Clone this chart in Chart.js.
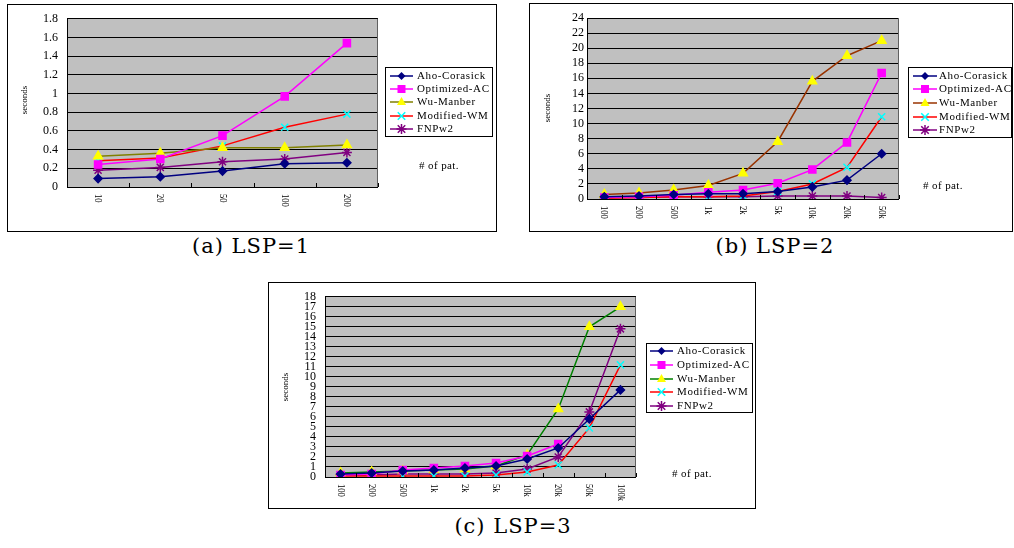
<!DOCTYPE html>
<html><head><meta charset="utf-8">
<script src="https://cdn.jsdelivr.net/npm/chart.js@4/dist/chart.umd.min.js"></script>
<style>
body{margin:0;background:#fff;width:1014px;height:548px;position:relative;overflow:hidden;font-family:"Liberation Serif","DejaVu Serif",serif;}
.box{position:absolute;border:1px solid #000;background:#fff;}
.box canvas{position:absolute;left:0;top:0;}
.cap{position:absolute;font-family:"DejaVu Serif","Liberation Serif",serif;font-size:21px;letter-spacing:1px;white-space:nowrap;transform:translateX(-50%);}
</style></head><body>
<div class="box" id="boxA" style="left:7px;top:4px;width:488px;height:226px;"><canvas id="cA" width="488" height="226"></canvas></div>
<div class="box" id="boxB" style="left:529px;top:3px;width:482px;height:227px;"><canvas id="cB" width="482" height="227"></canvas></div>
<div class="box" id="boxC" style="left:268px;top:282px;width:486px;height:225px;"><canvas id="cC" width="486" height="225"></canvas></div>
<div class="cap" style="left:251px;top:234px;">(a) LSP=1</div>
<div class="cap" style="left:775px;top:234px;">(b) LSP=2</div>
<div class="cap" style="left:513px;top:514px;">(c) LSP=3</div>
<script>
const seriesNames = ['Aho-Corasick','Optimized-AC','Wu-Manber','Modified-WM','FNPw2'];

// (a) LSP=1
const catsA = ['10','20','50','100','200'];
const ahoA  = [0.09, 0.11, 0.17, 0.25, 0.26];
const optA  = [0.24, 0.30, 0.55, 0.97, 1.54];
const wuA   = [0.33, 0.36, 0.42, 0.42, 0.45];
const modA  = [0.28, 0.31, 0.44, 0.64, 0.78];
const fnpA  = [0.18, 0.21, 0.27, 0.30, 0.37];

// (b) LSP=2
const catsB = ['100','200','500','1k','2k','5k','10k','20k','50k'];
const ahoB  = [0.3, 0.4, 0.6, 0.7, 0.7, 1.0, 1.6, 2.5, 6.0];
const optB  = [0.2, 0.3, 0.5, 0.9, 1.2, 2.1, 3.9, 7.5, 16.7];
const wuB   = [0.6, 0.8, 1.2, 1.8, 3.4, 7.6, 15.6, 19.0, 21.0];
const modB  = [0.1, 0.2, 0.3, 0.3, 0.4, 1.0, 2.0, 4.2, 10.9];
const fnpB  = [0.2, 0.2, 0.3, 0.3, 0.3, 0.4, 0.4, 0.4, 0.2];

// (c) LSP=3
const catsC = ['100','200','500','1k','2k','5k','10k','20k','50k','100k'];
const ahoC  = [0.3, 0.4, 0.6, 0.7, 0.9, 1.1, 1.8, 2.9, 5.8, 8.7];
const optC  = [0.2, 0.3, 0.7, 0.9, 1.1, 1.4, 2.1, 3.3, null, null];
const wuC   = [0.4, 0.5, 0.6, 0.7, 0.8, 1.1, 2.2, 6.8, 15.0, 17.0];
const modC  = [0.1, 0.1, 0.1, 0.1, 0.1, 0.2, 0.5, 1.2, 4.9, 11.2];
const fnpC  = [0.2, 0.2, 0.3, 0.3, 0.3, 0.4, 0.8, 2.0, 6.5, 14.8];

const FONT = '"Liberation Serif","DejaVu Serif",serif';

function styles(wuColor){
  return [
    {line:'#000080', pt:'rectRot', fill:'#000080', stroke:'#000080', r:4},
    {line:'#FF00FF', pt:'rect', fill:'#FF00FF', stroke:'#FF00FF', r:5},
    {line:wuColor, pt:'triangle', fill:'#FFFF00', stroke:'#FFFF00', r:5},
    {line:'#FF0000', pt:'crossRot', fill:'#00FFFF', stroke:'#00FFFF', r:5},
    {line:'#800080', pt:'star', fill:'#800080', stroke:'#800080', r:5}
  ];
}

function drawMarker(ctx, st, x, y){
  const r = st.r;
  ctx.save();
  ctx.fillStyle = st.fill; ctx.strokeStyle = st.stroke; ctx.lineWidth = 1.5;
  ctx.beginPath();
  if(st.pt==='rectRot'){ctx.moveTo(x,y-r);ctx.lineTo(x+r,y);ctx.lineTo(x,y+r);ctx.lineTo(x-r,y);ctx.closePath();ctx.fill();}
  else if(st.pt==='rect'){const s=r*0.8;ctx.rect(x-s,y-s,2*s,2*s);ctx.fill();}
  else if(st.pt==='triangle'){ctx.moveTo(x,y-r);ctx.lineTo(x+r*0.9,y+r*0.6);ctx.lineTo(x-r*0.9,y+r*0.6);ctx.closePath();ctx.fill();}
  else if(st.pt==='crossRot'){const s=r*0.75;ctx.moveTo(x-s,y-s);ctx.lineTo(x+s,y+s);ctx.moveTo(x+s,y-s);ctx.lineTo(x-s,y+s);ctx.stroke();}
  else if(st.pt==='star'){const s=r*0.75;ctx.moveTo(x-s,y-s);ctx.lineTo(x+s,y+s);ctx.moveTo(x+s,y-s);ctx.lineTo(x-s,y+s);ctx.moveTo(x,y-r);ctx.lineTo(x,y+r);ctx.moveTo(x-r,y);ctx.lineTo(x+r,y);ctx.stroke();}
  ctx.restore();
}

function makeChart(id, cats, series, wuColor, yMax, yStep, L){
  const st = styles(wuColor);
  const datasets = series.map((d,i)=>({
    label: seriesNames[i], data: d,
    borderColor: st[i].line, borderWidth: 1.5,
    pointStyle: st[i].pt, pointRadius: st[i].r, pointHoverRadius: st[i].r,
    pointBackgroundColor: st[i].fill, pointBorderColor: st[i].stroke, pointBorderWidth: 1.5,
    tension: 0, spanGaps: false, fill: false
  }));
  const decor = {
    id: 'decor'+id,
    beforeDraw(chart){
      const {ctx, chartArea:a} = chart;
      ctx.save(); ctx.fillStyle = '#C0C0C0';
      ctx.fillRect(a.left, a.top, a.right-a.left, a.bottom-a.top); ctx.restore();
    },
    afterDraw(chart){
      const {ctx, chartArea:a} = chart;
      const xs = chart.scales.x;
      ctx.save();
      ctx.strokeStyle = '#000'; ctx.lineWidth = 1;
      ctx.beginPath(); ctx.moveTo(a.left+0.5, a.top); ctx.lineTo(a.left+0.5, a.bottom+0.5); ctx.lineTo(a.right, a.bottom+0.5); ctx.stroke();
      ctx.strokeStyle = '#606060';
      ctx.beginPath(); ctx.moveTo(a.right-0.5, a.top); ctx.lineTo(a.right-0.5, a.bottom); ctx.stroke();
      ctx.strokeStyle = '#000';
      const n = cats.length;
      const bw = xs.getPixelForValue(1)-xs.getPixelForValue(0);
      for(let i=0;i<=n;i++){
        let x;
        if(i===0) x = xs.getPixelForValue(0) - bw/2;
        else if(i===n) x = xs.getPixelForValue(n-1) + bw/2;
        else x = (xs.getPixelForValue(i-1)+xs.getPixelForValue(i))/2;
        x = Math.round(x)+0.5;
        ctx.beginPath(); ctx.moveTo(x, a.bottom); ctx.lineTo(x, a.bottom-4); ctx.stroke();
      }
      ctx.fillStyle = '#000'; ctx.font = '11px '+FONT;
      ctx.textAlign = 'left'; ctx.textBaseline = 'middle';
      cats.forEach((c,i)=>{
        const x = xs.getPixelForValue(i);
        ctx.save(); ctx.translate(x, a.bottom+7); ctx.rotate(Math.PI/2); ctx.scale(0.78,1);
        ctx.fillText(c, 0, 0); ctx.restore();
      });
      ctx.save(); ctx.font = '9px '+FONT; ctx.textAlign='center'; ctx.textBaseline='middle';
      ctx.translate(L.yt[0], L.yt[1]); ctx.rotate(-Math.PI/2); ctx.fillText('seconds',0,0); ctx.restore();
      ctx.font = '11px '+FONT; ctx.textAlign='left'; ctx.textBaseline='middle';
      try{ctx.letterSpacing='0.4px';}catch(e){}
      ctx.fillText('# of pat.', L.xt[0], L.xt[1]);
      const lb = L.leg;
      ctx.fillStyle='#fff'; ctx.fillRect(lb[0],lb[1],lb[2],lb[3]);
      ctx.strokeStyle='#000'; ctx.lineWidth=1;
      ctx.strokeRect(lb[0]+0.5,lb[1]+0.5,lb[2]-1,lb[3]-1);
      ctx.font = '11px '+FONT; ctx.textBaseline='middle'; ctx.textAlign='left';
      try{ctx.letterSpacing='0.6px';}catch(e){}
      seriesNames.forEach((nm,i)=>{
        const y = L.rows[i];
        ctx.strokeStyle = st[i].line; ctx.lineWidth = 1.5;
        ctx.beginPath(); ctx.moveTo(L.lx[0], y); ctx.lineTo(L.lx[1], y); ctx.stroke();
        drawMarker(ctx, st[i], (L.lx[0]+L.lx[1])/2, y);
        ctx.fillStyle='#000'; ctx.fillText(nm, L.tx, y);
      });
      ctx.restore();
    }
  };
  return new Chart(document.getElementById(id), {
    type: 'line',
    data: {labels: cats, datasets},
    plugins: [decor],
    options: {
      responsive: false, animation: false,
      layout: {padding: {left: 0, top: L.pad[0], right: L.pad[1], bottom: 0}},
      plugins: {legend: {display: false}, tooltip: {enabled: false}},
      scales: {
        x: {
          type: 'category', offset: true,
          grid: {display: false, offset: true},
          border: {display: false},
          ticks: {display: false},
          afterFit(s){ s.height = L.xh; }
        },
        y: {
          min: 0, max: yMax,
          grid: {color: '#000', lineWidth: 1, drawTicks: false},
          border: {display: false},
          ticks: {stepSize: yStep, autoSkip: false, maxTicksLimit: 100, padding: L.yp, color: '#000',
            font: {family: FONT, size: 12, lineHeight: 0.8},
            callback: v => String(Math.round(v*10)/10)},
          afterFit(s){ s.width = L.yw; }
        }
      }
    }
  });
}

makeChart('cA', catsA, [ahoA, optA, wuA, modA, fnpA], '#808000', 1.8, 0.2, {
  pad:[13,118], xh:44, yw:59, yp:9,
  leg:[377,62,108,70], rows:[71,84,97,111,124], lx:[382,405], tx:409,
  xt:[411,161], yt:[17,95]
});
makeChart('cB', catsB, [ahoB, optB, wuB, modB, fnpB], '#993300', 24, 2, {
  pad:[14,113], xh:32, yw:57, yp:3,
  leg:[378,63,104,71], rows:[72,85,99,113,126], lx:[383,407], tx:409,
  xt:[393,182], yt:[18,104]
});
makeChart('cC', catsC, [ahoC, optC, wuC, modC, fnpC], '#008000', 18, 1, {
  pad:[13,119], xh:31, yw:56, yp:9,
  leg:[377,60,107,70], rows:[68,82,96,109,123], lx:[381,404], tx:408,
  xt:[403,191], yt:[17,104]
});
</script>
</body></html>
